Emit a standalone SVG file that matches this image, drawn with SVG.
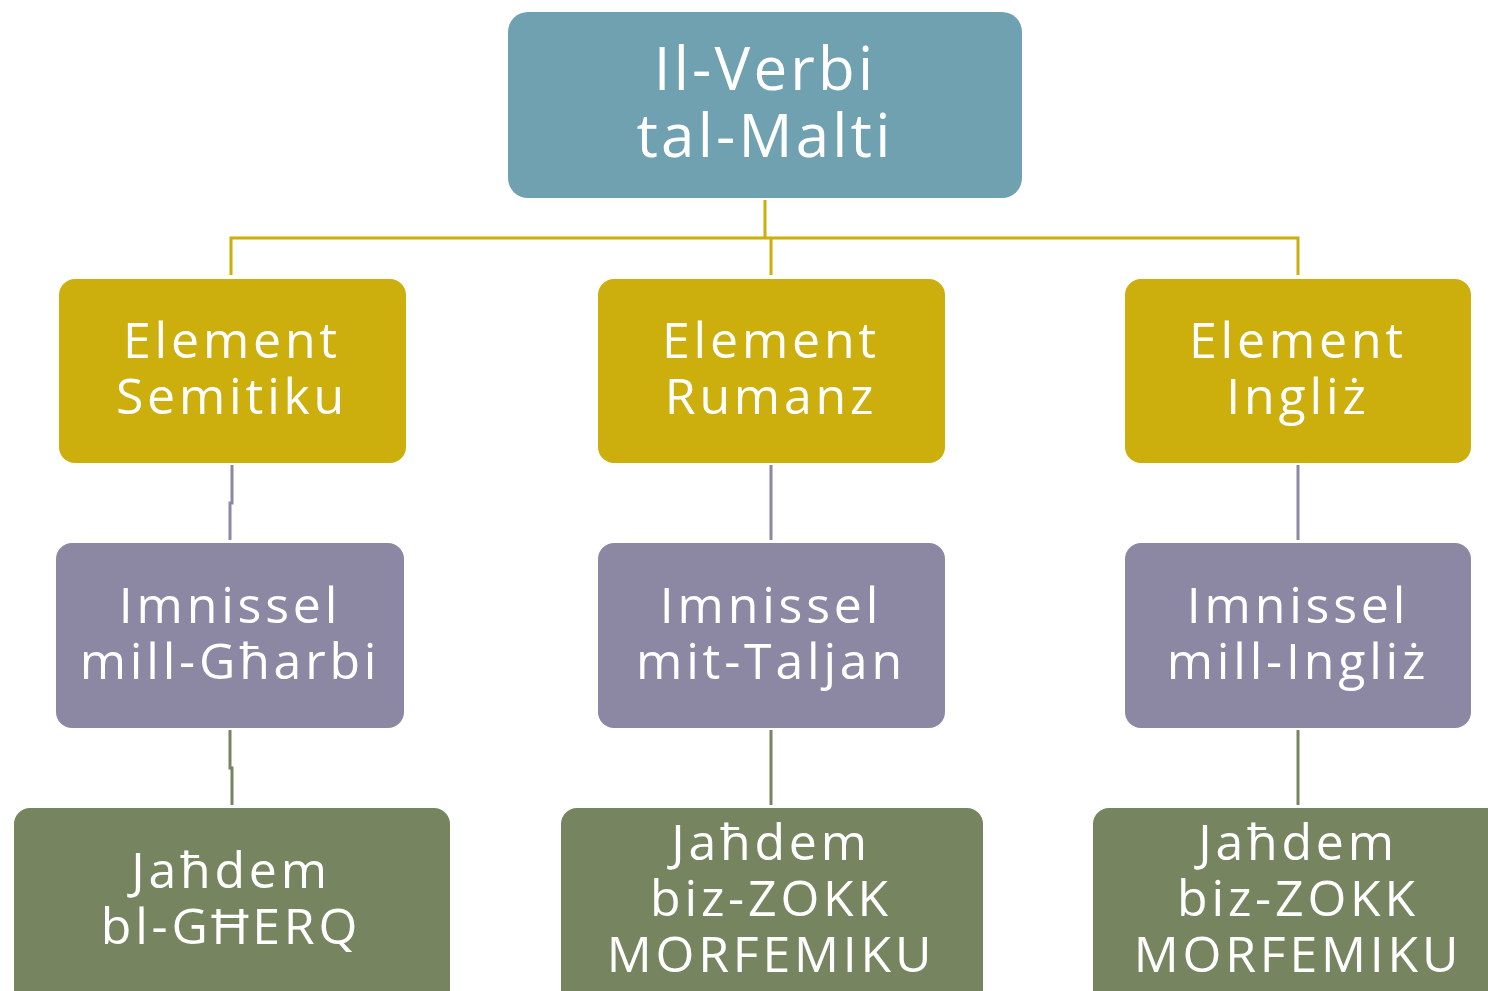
<svg xmlns="http://www.w3.org/2000/svg" width="1488" height="991" viewBox="0 0 1488 991">
<style>
.t{font-family:"Open Sans","Liberation Sans",sans-serif;fill:#ffffff;text-anchor:middle;letter-spacing:3.8px;font-size:50px}
.h{font-size:60px;letter-spacing:3.2px}
.top{fill:#6FA1B1}
.y{fill:#CCAE0C}
.p{fill:#8C88A4}
.g{fill:#76845F}
.cy{stroke:#CCAE0C;stroke-width:3;fill:none}
.cp{stroke:#8C88A4;stroke-width:3;fill:none}
.cg{stroke:#76845F;stroke-width:3;fill:none}
</style>
<rect width="1488" height="991" fill="#ffffff"/>
<g id="connectors">
<path class="cy" d="M765 200V238M231 275V238H1298V275M771 238V275"/>
<path class="cp" d="M232 465V503H230V540M771 465V540M1298 465V540"/>
<path class="cg" d="M230 730V768H232V805M771 730V805M1298 730V805"/>
</g>
<g id="root"><rect class="top" x="508" y="12" width="514" height="186" rx="20"/>
<text class="t h" x="765" y="90">Il-Verbi</text>
<text class="t h" x="765" y="157">tal-Malti</text></g>
<g id="semitiku"><rect class="y" x="59" y="279" width="347" height="184" rx="16"/>
<text class="t" x="232" y="358">Element</text>
<text class="t" x="232" y="414">Semitiku</text></g>
<g id="rumanz"><rect class="y" x="598" y="279" width="347" height="184" rx="16"/>
<text class="t" x="771" y="358">Element</text>
<text class="t" x="771" y="414">Rumanz</text></g>
<g id="ingliz"><rect class="y" x="1125" y="279" width="346" height="184" rx="16"/>
<text class="t" x="1298" y="358">Element</text>
<text class="t" x="1298" y="414">Ingliż</text></g>
<g id="gharbi"><rect class="p" x="56" y="543" width="348" height="185" rx="16"/>
<text class="t" x="230" y="623">Imnissel</text>
<text class="t" x="230" y="679">mill-Għarbi</text></g>
<g id="taljan"><rect class="p" x="598" y="543" width="347" height="185" rx="16"/>
<text class="t" x="771" y="623">Imnissel</text>
<text class="t" x="771" y="679">mit-Taljan</text></g>
<g id="inglizimn"><rect class="p" x="1125" y="543" width="346" height="185" rx="16"/>
<text class="t" x="1298" y="623">Imnissel</text>
<text class="t" x="1298" y="679">mill-Ingliż</text></g>
<g id="gherq"><rect class="g" x="14" y="808" width="436" height="200" rx="16"/>
<text class="t" x="231" y="888">Jaħdem</text>
<text class="t" x="231" y="944">bl-GĦERQ</text></g>
<g id="zokk1"><rect class="g" x="561" y="808" width="422" height="200" rx="16"/>
<text class="t" x="771" y="860">Jaħdem</text>
<text class="t" x="771" y="916">biz-ZOKK</text>
<text class="t" x="771" y="972">MORFEMIKU</text></g>
<g id="zokk2"><rect class="g" x="1093" y="808" width="420" height="200" rx="16"/>
<text class="t" x="1298" y="860">Jaħdem</text>
<text class="t" x="1298" y="916">biz-ZOKK</text>
<text class="t" x="1298" y="972">MORFEMIKU</text></g>
</svg>
